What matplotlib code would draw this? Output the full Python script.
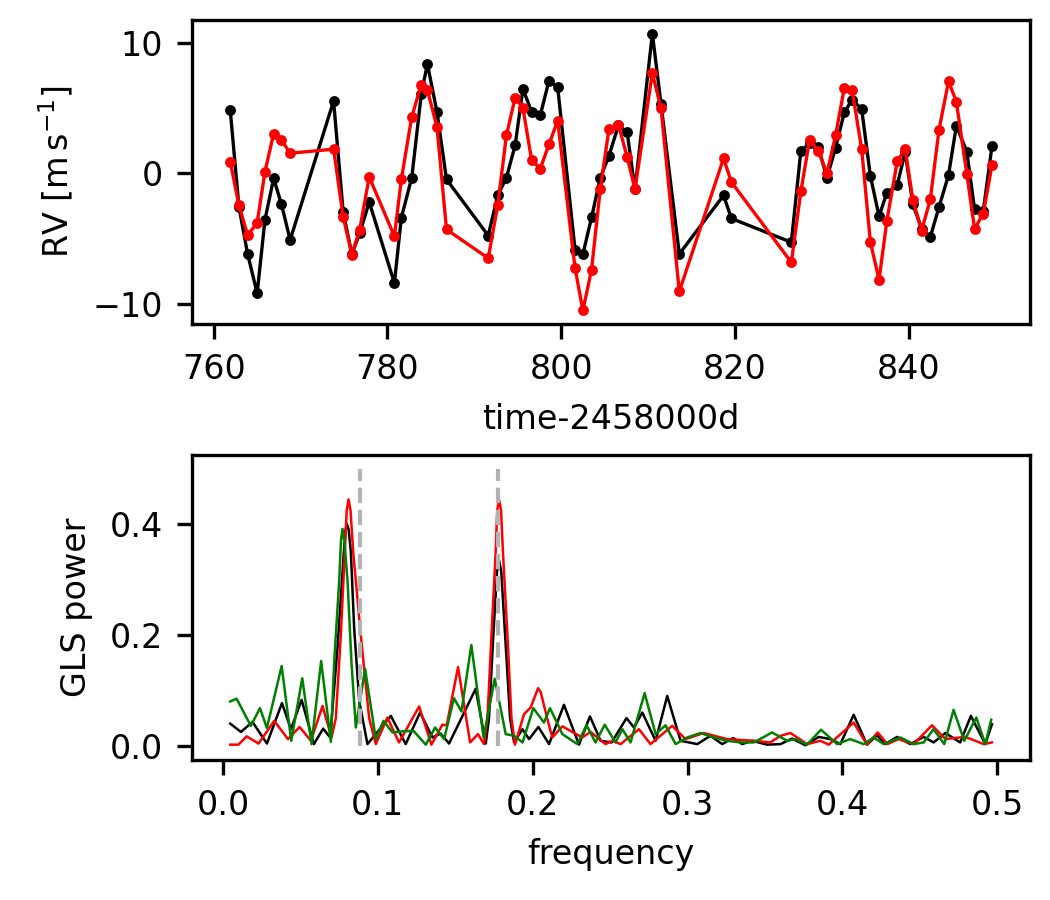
import matplotlib
matplotlib.use("Agg")
import matplotlib.pyplot as plt

plt.rcParams["font.size"] = 8

# radial velocities
time = [761.9, 762.9, 763.9, 765.0, 765.9, 766.9, 767.8, 768.8, 773.8, 774.9,
        775.9, 776.8, 777.9, 780.8, 781.6, 782.8, 783.9, 784.6, 785.7, 786.8,
        791.6, 792.7, 793.7, 794.7, 795.6, 796.6, 797.6, 798.6, 799.6, 801.6,
        802.5, 803.5, 804.5, 805.5, 806.6, 807.6, 808.5, 810.5, 811.5, 813.6,
        818.7, 819.6, 826.5, 827.6, 828.6, 829.6, 830.6, 831.6, 832.6, 833.5,
        834.6, 835.6, 836.6, 837.5, 838.7, 839.6, 840.5, 841.5, 842.5, 843.5,
        844.6, 845.5, 846.7, 847.6, 848.6, 849.6]
rv_black = [4.85, -2.56, -6.18, -9.18, -3.54, -0.38, -2.38, -5.1, 5.54, -2.95,
            -6.2, -4.6, -2.2, -8.4, -3.4, -0.33, 6.08, 8.38, 4.7, -0.46,
            -4.77, -1.69, -0.33, 2.15, 6.46, 4.72, 4.46, 7.1, 6.59, -5.85,
            -6.2, -3.38, -0.36, 1.33, 3.69, 3.13, -1.23, 10.7, 5.3, -6.18,
            -1.69, -3.46, -5.28, 1.72, 2.3, 2.02, -0.33, 1.97, 4.67, 5.64,
            4.92, -0.2, -3.28, -1.49, -0.9, 1.64, -2.38, -4.23, -4.87, -2.59,
            -0.13, 3.64, 1.67, -2.77, -2.9, 2.08]
rv_red = [0.9, -2.44, -4.74, -3.8, 0.13, 3.05, 2.54, 1.54, 1.85, -3.33,
          -6.23, -4.33, -0.28, -4.82, -0.46, 4.33, 6.8, 6.38, 3.56, -4.3,
          -6.5, -2.44, 2.92, 5.8, 5.0, 1.0, 0.36, 2.23, 4.03, -7.26,
          -10.5, -7.38, -1.23, 3.38, 3.69, 1.26, -1.23, 7.69, 4.97, -9.05,
          1.15, -0.67, -6.82, -1.38, 2.56, 1.72, 0.0, 2.92, 6.54, 6.38,
          1.85, -5.26, -8.15, -3.64, 0.95, 1.85, -2.05, -4.38, -2.0, 3.33,
          7.05, 5.49, -0.03, -4.26, -3.08, 0.62]

# GLS periodograms (peaks, troughs and flanks)
f_black = [0.0047, 0.0116, 0.0191, 0.0284, 0.0381, 0.0439, 0.0508, 0.0587, 0.0647, 0.0692,
           0.074, 0.0783, 0.0792, 0.080, 0.0812, 0.0826, 0.0847, 0.088, 0.0933, 0.1084,
           0.118, 0.1273, 0.1353, 0.1406, 0.146, 0.1535, 0.1632, 0.1697, 0.1718, 0.1746,
           0.1770, 0.1783, 0.1797, 0.1822, 0.1854, 0.188, 0.1934, 0.1977, 0.2037, 0.2106,
           0.2202, 0.2299, 0.237, 0.2439, 0.251, 0.2606, 0.2654, 0.2708, 0.2794, 0.2869,
           0.2955, 0.3063, 0.3148, 0.3224, 0.3295, 0.3353, 0.3417, 0.3514, 0.36, 0.3675,
           0.3761, 0.3847, 0.3923, 0.3987, 0.4073, 0.4159, 0.4224, 0.4277, 0.4353, 0.4439,
           0.4525, 0.4589, 0.4665, 0.4761, 0.483, 0.4923, 0.4966]
p_black = [0.040, 0.025, 0.043, 0.004, 0.077, 0.030, 0.083, 0.003, 0.031, 0.015,
           0.178, 0.359, 0.390, 0.401, 0.390, 0.350, 0.214, 0.081, 0.003, 0.054,
           0.003, 0.060, 0.015, 0.022, 0.004, 0.047, 0.103, 0.004, 0.050, 0.200,
           0.315, 0.335, 0.315, 0.200, 0.050, 0.006, 0.030, 0.012, 0.034, 0.003,
           0.074, 0.002, 0.053, 0.009, 0.006, 0.050, 0.033, 0.060, 0.009, 0.090,
           0.009, 0.003, 0.018, 0.003, 0.014, 0.003, 0.009, 0.002, 0.003, 0.013,
           0.001, 0.016, 0.012, 0.003, 0.056, 0.002, 0.019, 0.003, 0.016, 0.003,
           0.016, 0.006, 0.023, 0.006, 0.054, 0.003, 0.039]

f_red = [0.0047, 0.010, 0.0153, 0.023, 0.0331, 0.042, 0.0495, 0.0568, 0.0643, 0.0701,
         0.0729, 0.0761, 0.0787, 0.0799, 0.0811, 0.0824, 0.0841, 0.0890, 0.0944, 0.0987,
         0.1062, 0.1137, 0.1267, 0.1346, 0.1417, 0.1445, 0.1518, 0.1596, 0.1647, 0.1686,
         0.1708, 0.1734, 0.1761, 0.1771, 0.1783, 0.1796, 0.1808, 0.1837, 0.1863, 0.1886,
         0.1944, 0.1987, 0.2035, 0.2052, 0.2095, 0.2127, 0.2192, 0.232, 0.2374, 0.2471,
         0.2514, 0.2568, 0.2686, 0.2761, 0.2901, 0.2987, 0.3105, 0.3256, 0.343, 0.3535,
         0.36, 0.3665, 0.3772, 0.3858, 0.3912, 0.4073, 0.4159, 0.4228, 0.429, 0.4363,
         0.446, 0.4579, 0.4665, 0.4725, 0.4794, 0.4912, 0.4966]
p_red = [0.002, 0.002, 0.017, 0.004, 0.045, 0.012, 0.034, 0.009, 0.072, 0.015,
         0.050, 0.200, 0.350, 0.425, 0.445, 0.425, 0.350, 0.200, 0.050, 0.003,
         0.051, 0.006, 0.071, 0.002, 0.038, 0.037, 0.142, 0.006, 0.021, 0.003,
         0.050, 0.200, 0.350, 0.425, 0.445, 0.425, 0.350, 0.200, 0.050, 0.002,
         0.057, 0.069, 0.104, 0.097, 0.048, 0.015, 0.035, 0.015, 0.025, 0.003,
         0.009, 0.003, 0.030, 0.003, 0.036, 0.012, 0.023, 0.012, 0.009, 0.006,
         0.018, 0.023, 0.003, 0.009, 0.002, 0.042, 0.002, 0.024, 0.003, 0.012,
         0.003, 0.037, 0.012, 0.014, 0.016, 0.003, 0.006]

f_green = [0.0047, 0.0088, 0.018, 0.0239, 0.0284, 0.0379, 0.0441, 0.0512, 0.0572, 0.0634,
           0.0697, 0.0718, 0.0751, 0.0762, 0.0772, 0.0784, 0.0804, 0.083, 0.0858, 0.0918,
           0.0987, 0.1037, 0.1095, 0.1155, 0.123, 0.131, 0.137, 0.1428, 0.1492, 0.154,
           0.1604, 0.1683, 0.1755, 0.1826, 0.188, 0.1935, 0.2004, 0.2073, 0.2112, 0.2192,
           0.2288, 0.2348, 0.2406, 0.2465, 0.2535, 0.2579, 0.2632, 0.2723, 0.2794, 0.2858,
           0.2923, 0.2998, 0.3084, 0.317, 0.3256, 0.3342, 0.3428, 0.3546, 0.3643, 0.3697,
           0.3772, 0.3862, 0.3966, 0.405, 0.4138, 0.4202, 0.4267, 0.4374, 0.446, 0.4525,
           0.4589, 0.4658, 0.4718, 0.4787, 0.4865, 0.4923, 0.4961]
p_green = [0.080, 0.085, 0.036, 0.068, 0.032, 0.144, 0.009, 0.122, 0.003, 0.153,
           0.007, 0.150, 0.300, 0.370, 0.392, 0.370, 0.300, 0.150, 0.033, 0.139,
           0.012, 0.045, 0.024, 0.026, 0.027, 0.002, 0.033, 0.012, 0.086, 0.062,
           0.182, 0.015, 0.121, 0.021, 0.018, 0.006, 0.068, 0.042, 0.068, 0.021,
           0.003, 0.037, 0.006, 0.038, 0.006, 0.030, 0.006, 0.095, 0.021, 0.037,
           0.003, 0.015, 0.023, 0.015, 0.009, 0.006, 0.006, 0.024, 0.009, 0.012,
           0.002, 0.029, 0.003, 0.012, 0.003, 0.015, 0.003, 0.015, 0.003, 0.006,
           0.030, 0.003, 0.065, 0.009, 0.051, 0.003, 0.047]

# marked frequencies (dashed lines)
f_marks = [0.0886, 0.1773]

fig, (ax1, ax2) = plt.subplots(2, 1, figsize=(3.5, 3.0), dpi=300)
fig.subplots_adjust(left=0.183, right=0.981, top=0.978, bottom=0.156, hspace=0.43)

ax1.plot(time, rv_black, "o-", color="k", lw=0.8, ms=1.6)
ax1.plot(time, rv_red, "o-", color="r", lw=0.8, ms=1.6)
ax1.set_xlabel("time-2458000d")
ax1.set_ylabel(r"RV [$\mathrm{m\,s^{-1}}$]")

ax2.plot(f_black, p_black, color="k", lw=0.6)
ax2.plot(f_red, p_red, color="r", lw=0.6)
ax2.plot(f_green, p_green, color="g", lw=0.6)
ax2.vlines(f_marks, 0, 0.5, colors="0.7", linestyles="--", lw=1.0)
ax2.set_xlabel("frequency")
ax2.set_ylabel("GLS power")

fig.savefig("out.png", dpi=300)
